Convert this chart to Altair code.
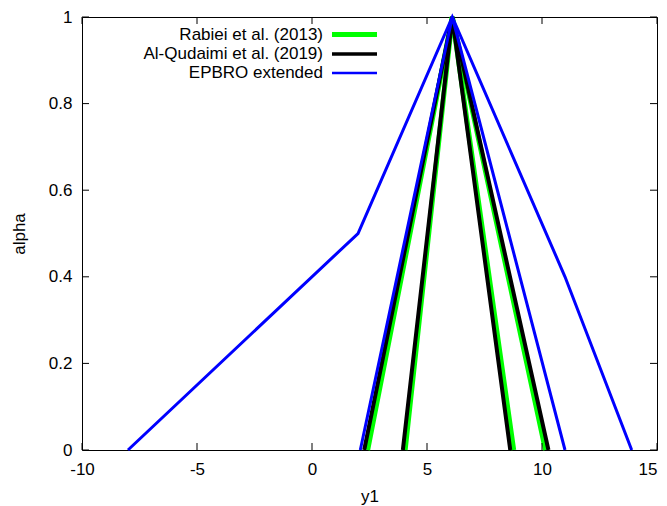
import altair as alt
import pandas as pd

# ---- data ----
series_names = ["Rabiei et al. (2013)", "Al-Qudaimi et al. (2019)", "EPBRO extended"]
series_colors = ["#00ff00", "#000000", "#0000ff"]
series_widths = [5, 4, 3]
legend_widths = [5, 3.5, 2.5]

tri_alpha = [0, 1, 0]
rabiei_outer_x = [2.42, 6.1, 10.15]
rabiei_inner_x = [4.05, 6.1, 8.77]
alq_outer_x = [2.27, 6.1, 10.28]
alq_inner_x = [3.95, 6.1, 8.62]
epbro_inner_x = [2.1, 6.1, 11.0]
epbro_outer_x = [-8.0, 2.0, 6.1, 11.0, 13.9]
epbro_outer_alpha = [0, 0.5, 1, 0.4, 0]

x_ticks = [-10, -5, 0, 5, 10, 15]
y_ticks = [0, 0.2, 0.4, 0.6, 0.8, 1.0]

rows = []


def add(series, line, xs, alphas):
    for i, (xv, av) in enumerate(zip(xs, alphas)):
        rows.append({"series": series, "line": line, "pt": i, "x": xv, "alpha": av})


add(series_names[0], "r1", rabiei_outer_x, tri_alpha)
add(series_names[0], "r2", rabiei_inner_x, tri_alpha)
add(series_names[1], "q1", alq_outer_x, tri_alpha)
add(series_names[1], "q2", alq_inner_x, tri_alpha)
add(series_names[2], "e1", epbro_inner_x, tri_alpha)
add(series_names[2], "e2", epbro_outer_x, epbro_outer_alpha)
df = pd.DataFrame(rows)

W, H = 575, 433
FONT = "Liberation Sans"
FS = 17
TICK = 7

xscale = alt.Scale(domain=[-10, 15], nice=False, zero=False)
yscale = alt.Scale(domain=[0, 1], nice=False, zero=False)

xaxis = alt.Axis(values=x_ticks, title="y1", labelFlush=False, labelOverlap=False,
                 labelExpr="'' + datum.value",
                 labelAlign={"condition": {"test": "datum.value == 15", "value": "right"},
                             "value": "center"},
                 ticks=False, tickSize=0, domain=False, grid=False, labelPadding=11,
                 titleY=51, titleBaseline="alphabetic", titleFontWeight="normal",
                 labelFontSize=FS, titleFontSize=FS, labelColor="black", titleColor="black",
                 labelFont=FONT, titleFont=FONT)
yaxis = alt.Axis(values=y_ticks, title="alpha", format="~g", labelOverlap=False,
                 labelFlush=False, ticks=False, tickSize=0, domain=False, grid=False,
                 labelPadding=10, titleX=-58, titleY=H / 2, titleBaseline="alphabetic",
                 titleAlign="center", titleFontWeight="normal",
                 labelFontSize=FS, titleFontSize=FS, labelColor="black", titleColor="black",
                 labelFont=FONT, titleFont=FONT)

X = alt.X("x:Q", scale=xscale, axis=xaxis)
Y = alt.Y("alpha:Q", scale=yscale, axis=yaxis)

layers = []
for name, col, w in zip(series_names, series_colors, series_widths):
    layers.append(
        alt.Chart(df).transform_filter(alt.datum.series == name)
        .mark_line(color=col, strokeWidth=w, strokeJoin="miter")
        .encode(x=X, y=Y, detail="line:N", order="pt:Q")
    )

# inward ticks (gnuplot style, mirrored)
xt = pd.DataFrame({"x": x_ticks})
yt = pd.DataFrame({"alpha": y_ticks})
layers.append(alt.Chart(xt).mark_rule(color="black", strokeWidth=1)
              .encode(x=X, y=alt.value(H), y2=alt.value(H - TICK)))
layers.append(alt.Chart(xt).mark_rule(color="black", strokeWidth=1)
              .encode(x=X, y=alt.value(0), y2=alt.value(TICK)))
layers.append(alt.Chart(yt).mark_rule(color="black", strokeWidth=1)
              .encode(y=Y, x=alt.value(0), x2=alt.value(TICK)))
layers.append(alt.Chart(yt).mark_rule(color="black", strokeWidth=1)
              .encode(y=Y, x=alt.value(W), x2=alt.value(W - TICK)))

# legend (top-left, labels right-aligned, sample lines to the right)
legend_y = [17.5, 37, 56]
for name, col, lw, ly in zip(series_names, series_colors, legend_widths, legend_y):
    one = pd.DataFrame({"label": [name]})
    layers.append(alt.Chart(one).mark_text(align="right", baseline="middle", font=FONT,
                                           fontSize=FS, color="black")
                  .encode(text="label:N", x=alt.value(241), y=alt.value(ly)))
    layers.append(alt.Chart(one).mark_rule(color=col, strokeWidth=lw)
                  .encode(x=alt.value(250), x2=alt.value(295), y=alt.value(ly)))

chart = alt.layer(*layers).properties(
    width=W, height=H,
    padding={"left": 74, "top": 9, "right": 2, "bottom": 56},
    autosize=alt.AutoSizeParams(type="none"),
    background="white",
).configure_view(stroke="black", strokeWidth=1)

chart.save("out.html", embed_options={"renderer": "svg", "actions": False})
